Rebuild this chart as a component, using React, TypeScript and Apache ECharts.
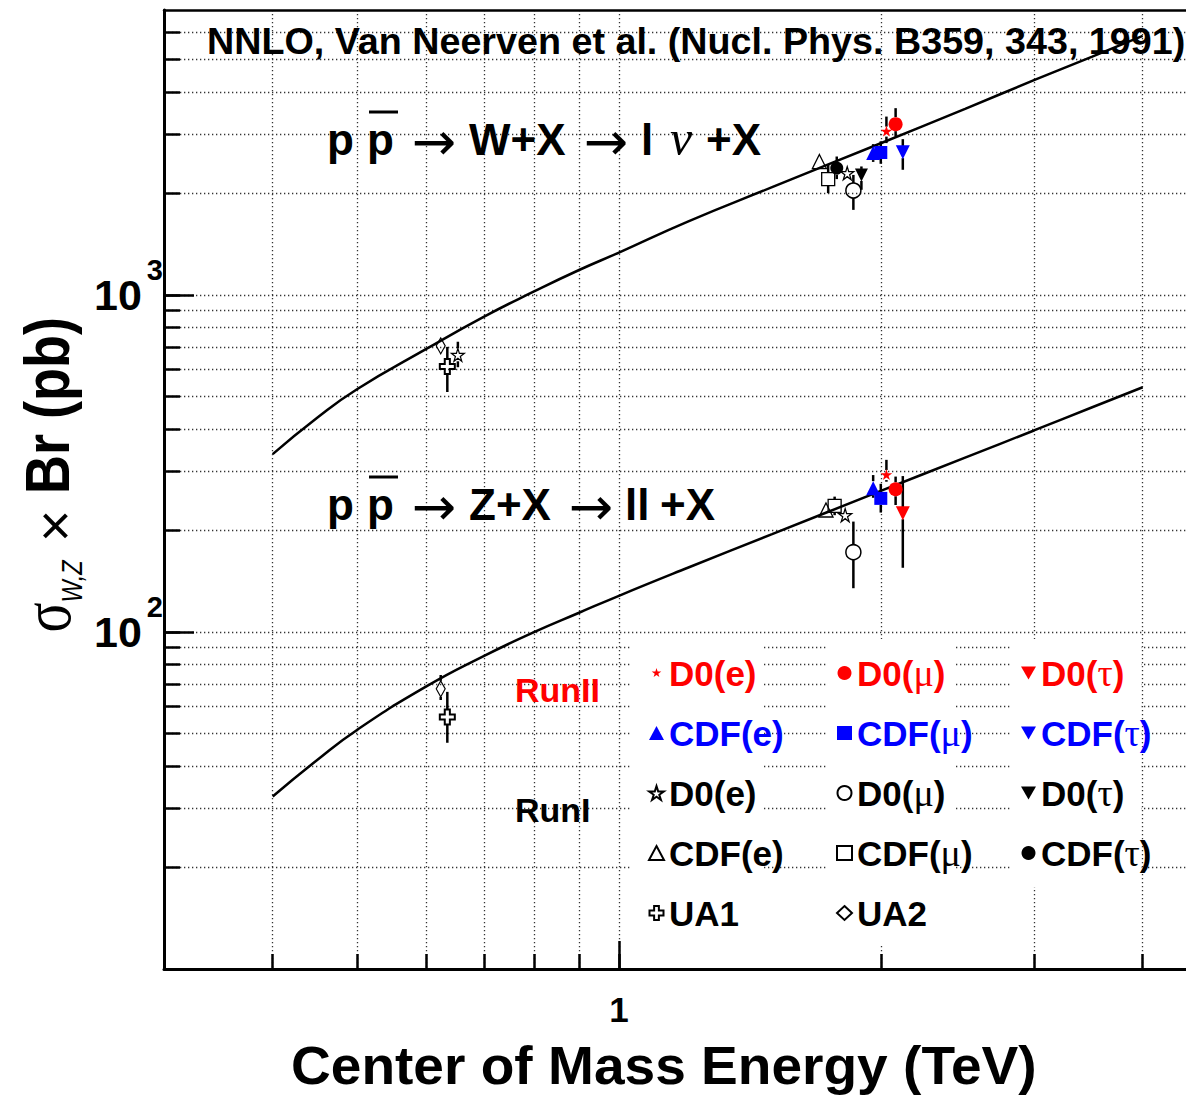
import React, { useEffect, useRef } from "react";
import * as echarts from "echarts";

const SANS = "'Liberation Sans', Arial, Helvetica, sans-serif";
const SERIF = "'Liberation Serif', 'Times New Roman', serif";
const ARROWS = "'DejaVu Sans', sans-serif";
const RED = "#ff0000";
const BLUE = "#0000ff";
const BLACK = "#000000";
const HOLLOW = "rgba(255,255,255,0)";

// ---- axes ---------------------------------------------------------------
const energyMin = 0.3;
const energyMax = 5;
const sigmaMin = 10;
const sigmaMax = 7000;
const energyTicks = [0.4, 0.5, 0.6, 0.7, 0.8, 0.9, 1, 2, 3, 4];
const energyMajor = [1];
const energyTickLabels = ["1"];
const sigmaTicks = [
  20, 30, 40, 50, 60, 70, 80, 90, 100, 200, 300, 400, 500, 600, 700, 800, 900,
  1000, 2000, 3000, 4000, 5000, 6000,
];
const sigmaMajor = [100, 1000];
const sigmaExponents = ["2", "3"];

// ---- NNLO prediction (pb) -------------------------------------------------
const nnloEnergy = [0.4, 0.45, 0.5, 0.6, 0.7, 0.8, 0.9, 1.0, 1.2, 1.5, 2.0, 2.5, 3.0, 3.5, 4.0];
const nnloW = [337, 432, 525, 690, 862, 1025, 1185, 1335, 1650, 2087, 2817, 3564, 4334, 5091, 5863];
const nnloZ = [32.5, 41.7, 51.2, 68.8, 84.9, 100, 114, 128, 155, 195, 262, 329, 396, 464, 532];

// ---- measurements: [energy (TeV), sigma x Br (pb), lower edge, upper edge]
// energies are spread a little around 0.63, 1.8 and 1.96 TeV to keep markers apart
const d0ElecRun2 = [[2.03, 3050, 2820, 3380], [2.03, 292, 279, 324]];
const d0MuonRun2 = [[2.08, 3210, 2950, 3580], [2.08, 265, 238, 289]];
const d0TauRun2 = [[2.12, 225, 155, 290]];
const cdfElecRun2 = [[1.96, 2634, 2480, 2800], [1.96, 267, 250, 292]];
const cdfMuonRun2 = [[2.0, 2644, 2448, 2855], [2.0, 249, 226, 275]];
const cdfTauRun2 = [[2.12, 2651, 2350, 2897]];
const d0ElecRun1 = [[1.83, 2296, 2240, 2350], [1.82, 222, 216, 228]];
const d0MuonRun1 = [[1.86, 2040, 1787, 2269], [1.86, 172.4, 134.8, 212.5]];
const d0TauRun1 = [[1.9, 2269, 2050, 2404]];
const cdfElecRun1 = [[1.7, 2486, 2430, 2540], [1.73, 230, 224, 236]];
const cdfMuonRun1 = [[1.74, 2206, 2003, 2432], [1.77, 236.7, 222, 252]];
const cdfTauRun1 = [[1.78, 2377, 2205, 2573]];
const ua1 = [[0.635, 613, 515, 701], [0.635, 55.9, 46.9, 66.4]];
const ua2 = [[0.624, 706, 690, 722], [0.624, 67.8, 62.8, 74.5]];
const ua2Star = [[0.653, 664, 610, 726]];

// ---- marker shapes --------------------------------------------------------
const STAR = "path://M50,0L61,35L98,35L68,57L79,91L50,70L21,91L32,57L2,35L39,35Z";
const SMALL_STAR = "path://M-20,-20M120,120M50,0L61,35L98,35L68,57L79,91L50,70L21,91L32,57L2,35L39,35Z";
const DOWN = "path://M0,0L100,0L50,86Z";
const CROSS = "path://M33,0L67,0L67,33L100,33L100,67L67,67L67,100L33,100L33,67L0,67L0,33L33,33Z";

type Spec = {
  name: string;
  label: string;
  text: string;
  points: number[][];
  symbol: string;
  size: number | number[];
  fill: string;
  border: string;
  borderWidth: number;
  gap: number;
};

const markerSpecs: Spec[] = [
  { name: "D0(e) RunII", label: "{t|D0(e)}", text: RED, points: d0ElecRun2, symbol: SMALL_STAR, size: 17, fill: RED, border: RED, borderWidth: 0, gap: 5 },
  { name: "D0(μ) RunII", label: "{t|D0(}{g|μ}{t|)}", text: RED, points: d0MuonRun2, symbol: "circle", size: 14, fill: RED, border: RED, borderWidth: 0, gap: 7 },
  { name: "D0(τ) RunII", label: "{t|D0(}{g|τ}{t|)}", text: RED, points: d0TauRun2, symbol: DOWN, size: 14, fill: RED, border: RED, borderWidth: 0, gap: 6 },
  { name: "CDF(e) RunII", label: "{t|CDF(e)}", text: BLUE, points: cdfElecRun2, symbol: "triangle", size: 14, fill: BLUE, border: BLUE, borderWidth: 0, gap: 7 },
  { name: "CDF(μ) RunII", label: "{t|CDF(}{g|μ}{t|)}", text: BLUE, points: cdfMuonRun2, symbol: "rect", size: 13, fill: BLUE, border: BLUE, borderWidth: 0, gap: 6.5 },
  { name: "CDF(τ) RunII", label: "{t|CDF(}{g|τ}{t|)}", text: BLUE, points: cdfTauRun2, symbol: DOWN, size: 14, fill: BLUE, border: BLUE, borderWidth: 0, gap: 6 },
  { name: "D0(e) RunI", label: "{t|D0(e)}", text: BLACK, points: d0ElecRun1, symbol: STAR, size: 13, fill: HOLLOW, border: BLACK, borderWidth: 1.3, gap: 6.5 },
  { name: "D0(μ) RunI", label: "{t|D0(}{g|μ}{t|)}", text: BLACK, points: d0MuonRun1, symbol: "circle", size: 15, fill: HOLLOW, border: BLACK, borderWidth: 1.5, gap: 7.5 },
  { name: "D0(τ) RunI", label: "{t|D0(}{g|τ}{t|)}", text: BLACK, points: d0TauRun1, symbol: DOWN, size: 13, fill: BLACK, border: BLACK, borderWidth: 0, gap: 6 },
  { name: "CDF(e) RunI", label: "{t|CDF(e)}", text: BLACK, points: cdfElecRun1, symbol: "triangle", size: 14, fill: HOLLOW, border: BLACK, borderWidth: 1.3, gap: 7 },
  { name: "CDF(μ) RunI", label: "{t|CDF(}{g|μ}{t|)}", text: BLACK, points: cdfMuonRun1, symbol: "rect", size: 13, fill: HOLLOW, border: BLACK, borderWidth: 1.3, gap: 6.5 },
  { name: "CDF(τ) RunI", label: "{t|CDF(}{g|τ}{t|)}", text: BLACK, points: cdfTauRun1, symbol: "circle", size: 13, fill: BLACK, border: BLACK, borderWidth: 0, gap: 6.5 },
  { name: "UA1", label: "{t|UA1}", text: BLACK, points: ua1, symbol: CROSS, size: 15, fill: HOLLOW, border: BLACK, borderWidth: 2, gap: 7.5 },
  { name: "UA2", label: "{t|UA2}", text: BLACK, points: ua2, symbol: "diamond", size: [9, 16], fill: HOLLOW, border: BLACK, borderWidth: 1.2, gap: 8 },
  { name: "UA2 (W, star)", label: "", text: BLACK, points: ua2Star, symbol: STAR, size: 13, fill: HOLLOW, border: BLACK, borderWidth: 1.2, gap: 6.5 },
];

const legendColumns = [
  ["D0(e) RunII", "CDF(e) RunII", "D0(e) RunI", "CDF(e) RunI", "UA1"],
  ["D0(μ) RunII", "CDF(μ) RunII", "D0(μ) RunI", "CDF(μ) RunI", "UA2"],
  ["D0(τ) RunII", "CDF(τ) RunII", "D0(τ) RunI", "CDF(τ) RunI"],
];
const legendLeft = [648, 836, 1021];

const specByName: Record<string, Spec> = {};
markerSpecs.forEach((s) => (specByName[s.name] = s));

const gridLine = { color: "#333", width: 1.3, type: [1.3, 2.7] as number[] };
const frameLine = { color: BLACK, width: 3 };
const tickLine = { color: BLACK, width: 2.5 };

function buildOption() {
  const logX = { type: "log", logBase: 10, min: energyMin, max: energyMax, gridIndex: 0 };
  const logY = { type: "log", logBase: 10, min: sigmaMin, max: sigmaMax, gridIndex: 0 };

  const theoryLine = (name: string, values: number[]) => ({
    type: "line",
    name,
    data: nnloEnergy.map((e, i) => [e, values[i]]),
    symbol: "none",
    smooth: 0.5,
    lineStyle: { color: BLACK, width: 2.5 },
    z: 2,
    silent: true,
  });

  const series: any[] = [theoryLine("NNLO W", nnloW), theoryLine("NNLO Z", nnloZ)];

  markerSpecs.forEach((spec) => {
    series.push({
      type: "custom",
      name: spec.name + " err",
      data: spec.points,
      encode: { x: 0, y: 1 },
      z: 3,
      silent: true,
      renderItem: (_params: any, api: any) => {
        const e = api.value(0);
        const c = api.coord([e, api.value(1)]);
        const lo = api.coord([e, api.value(2)]);
        const hi = api.coord([e, api.value(3)]);
        const children: any[] = [];
        const seg = (y1: number, y2: number) => ({
          type: "line",
          shape: { x1: c[0], y1, x2: c[0], y2 },
          style: { stroke: BLACK, lineWidth: 2.5 },
        });
        if (c[1] - spec.gap > hi[1] + 0.5) children.push(seg(hi[1], c[1] - spec.gap));
        if (lo[1] > c[1] + spec.gap + 0.5) children.push(seg(c[1] + spec.gap, lo[1]));
        return { type: "group", children };
      },
    });
    series.push({
      type: "scatter",
      name: spec.name,
      data: spec.points.map((p) => [p[0], p[1]]),
      symbol: spec.symbol,
      symbolSize: spec.size,
      itemStyle: {
        color: spec.fill,
        borderColor: spec.border,
        borderWidth: spec.borderWidth,
        opacity: 1,
      },
      z: 4,
      silent: true,
      emphasis: { disabled: true },
    });
  });

  const legend = legendColumns.map((names, i) => ({
    orient: "vertical",
    left: legendLeft[i],
    top: 653,
    padding: 0,
    itemWidth: 15,
    itemHeight: 14,
    itemGap: 20,
    selectedMode: false,
    z: 6,
    data: names.map((n) => ({ name: n, textStyle: { color: specByName[n].text } })),
    formatter: (n: string) => specByName[n].label,
    textStyle: {
      fontFamily: SANS,
      fontSize: 35,
      fontWeight: "bold",
      lineHeight: 40,
      rich: {
        t: { fontFamily: SANS, fontSize: 35, fontWeight: "bold", lineHeight: 40 },
        g: { fontFamily: SERIF, fontSize: 38, fontWeight: "normal", lineHeight: 40 },
      },
    },
  }));

  const txt = (
    text: string,
    x: number,
    y: number,
    size: number,
    opts: any = {}
  ) => ({
    type: "text",
    x,
    y,
    z: 8,
    silent: true,
    rotation: opts.rotation || 0,
    scaleX: opts.scaleX || 1,
    scaleY: opts.scaleY || 1,
    style: {
      text,
      fill: opts.color || BLACK,
      fontFamily: opts.family || SANS,
      fontSize: size,
      fontWeight: opts.weight || "bold",
      fontStyle: opts.style || "normal",
      lineHeight: opts.lineHeight,
      align: opts.align || "left",
      verticalAlign: "middle",
    },
  });

  const whiteBox = (x: number, y: number, w: number, h: number) => ({
    type: "rect",
    z: 1,
    silent: true,
    shape: { x, y, width: w, height: h },
    style: { fill: "#ffffff" },
  });

  const arrow = (x: number, y: number) =>
    txt("→", x, y, 53, { family: ARROWS, weight: "normal", align: "center" });

  const graphic = [
    whiteBox(631, 639, 133, 306),
    whiteBox(826, 639, 130, 306),
    whiteBox(1010, 639, 131, 248),

    txt("NNLO, Van Neerven et al. (Nucl. Phys. B359, 343, 1991)", 207, 40.5, 37.7),

    // W production
    txt("p", 327, 139.8, 44),
    txt("p", 367, 139.8, 44),
    { type: "rect", z: 8, silent: true, shape: { x: 369, y: 110.5, width: 29, height: 3 }, style: { fill: BLACK } },
    arrow(434, 141),
    txt("W+X", 469, 139.8, 44),
    arrow(606, 141),
    txt("l", 641, 139.8, 44),
    txt("ν", 681, 138, 50, { family: SERIF, weight: "normal", style: "italic", align: "center" }),
    txt("+X", 706, 139.8, 44),

    // Z production
    txt("p", 327, 504.8, 44),
    txt("p", 367, 504.8, 44),
    { type: "rect", z: 8, silent: true, shape: { x: 369, y: 475.5, width: 29, height: 3 }, style: { fill: BLACK } },
    arrow(434, 506),
    txt("Z+X", 469, 504.8, 44),
    arrow(591, 506),
    txt("ll", 625, 504.8, 44),
    txt("+X", 660, 504.8, 44),

    txt("RunII", 515, 690, 34, { color: RED }),
    txt("RunI", 515, 810, 34),

    txt("Center of Mass Energy (TeV)", 291, 1066, 54, { lineHeight: 52, scaleX: 1.02 }),

    // vertical axis title, reading bottom to top
    txt("Br (pb)", 47.5, 494, 54, { rotation: Math.PI / 2, scaleY: 1.16 }),
    txt("×", 54, 526, 56, { rotation: Math.PI / 2, weight: "normal", align: "center" }),
    txt("W,Z", 72.5, 581.5, 23.5, { rotation: Math.PI / 2, scaleY: 1.25, weight: "normal", style: "italic", align: "center" }),
    txt("σ", 46.4, 617.5, 56, { rotation: Math.PI / 2, scaleY: 1.25, family: SERIF, weight: "normal", align: "center" }),
  ];

  return {
    animation: false,
    backgroundColor: "#ffffff",
    grid: {
      left: 164,
      top: 10,
      width: 1063,
      height: 959,
      containLabel: false,
      outerBoundsMode: "none",
    },
    xAxis: [
      {
        ...logX,
        position: "bottom",
        axisLine: { show: true, onZero: false, lineStyle: frameLine },
        axisTick: { show: true, inside: true, length: 15, customValues: energyTicks, lineStyle: tickLine },
        axisLabel: { show: false },
        splitLine: { show: true, lineStyle: gridLine },
        minorTick: { show: false },
        minorSplitLine: { show: false },
      },
      {
        ...logX,
        position: "bottom",
        axisLine: { show: false, onZero: false },
        axisTick: { show: true, inside: true, length: 28, customValues: energyMajor, lineStyle: tickLine },
        axisLabel: {
          show: true,
          customValues: energyMajor,
          formatter: (v: number) => energyTickLabels[energyMajor.indexOf(Math.round(v * 1000) / 1000)] ?? "",
          margin: 23,
          color: BLACK,
          fontFamily: SANS,
          fontWeight: "bold",
          fontSize: 35,
        },
        splitLine: { show: false },
      },
      {
        ...logX,
        position: "top",
        axisLine: { show: true, onZero: false, lineStyle: { color: BLACK, width: 2.5 } },
        axisTick: { show: false },
        axisLabel: { show: false },
        splitLine: { show: false },
      },
    ],
    yAxis: [
      {
        ...logY,
        position: "left",
        axisLine: { show: true, onZero: false, lineStyle: frameLine },
        axisTick: { show: true, inside: true, length: 16, customValues: sigmaTicks, lineStyle: tickLine },
        axisLabel: { show: false },
        splitLine: { show: true, lineStyle: gridLine },
        minorTick: { show: false },
        minorSplitLine: { show: false },
      },
      {
        ...logY,
        position: "left",
        axisLine: { show: false, onZero: false },
        axisTick: { show: true, inside: true, length: 30, customValues: sigmaMajor, lineStyle: tickLine },
        axisLabel: {
          show: true,
          customValues: sigmaMajor,
          margin: 1,
          formatter: (v: number) => {
            const i = sigmaMajor.findIndex((m) => Math.abs(m - v) / m < 1e-6);
            return i < 0 ? "" : "{b|10}{s|" + sigmaExponents[i] + "}";
          },
          rich: {
            b: { fontFamily: SANS, fontWeight: "bold", fontSize: 43, lineHeight: 79, color: BLACK },
            s: { fontFamily: SANS, fontWeight: "bold", fontSize: 29, lineHeight: 29, color: BLACK, verticalAlign: "top", padding: [0, 0, 0, 5] },
          },
        },
        splitLine: { show: false },
      },
    ],
    legend,
    graphic,
    series,
  };
}

export default function App() {
  const ref = useRef<HTMLDivElement>(null);
  useEffect(() => {
    if (!ref.current) return;
    const chart = echarts.init(ref.current, undefined, { renderer: "svg" });
    chart.setOption(buildOption() as any);
    return () => chart.dispose();
  }, []);
  return (
    <div
      ref={ref}
      style={{ position: "absolute", left: 0, top: 0, width: 1186, height: 1098, background: "#fff" }}
    />
  );
}
